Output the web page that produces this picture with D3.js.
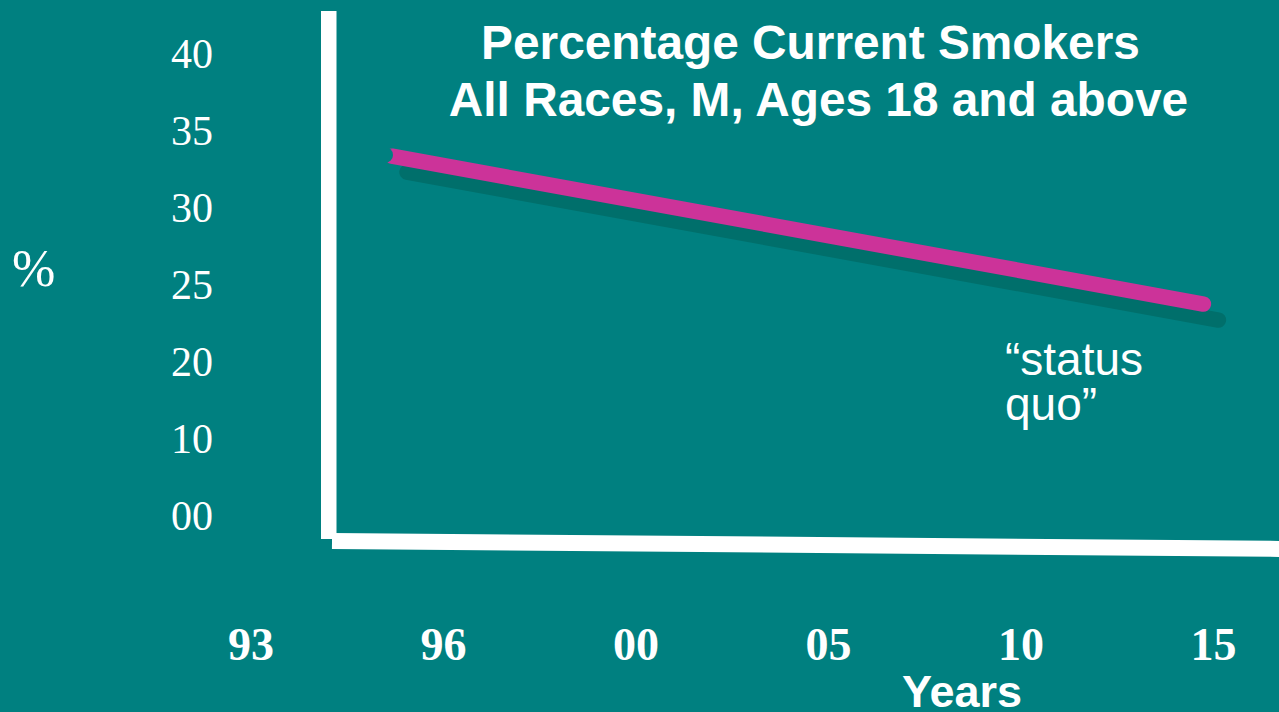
<!DOCTYPE html>
<html>
<head>
<meta charset="utf-8">
<script src="https://cdn.jsdelivr.net/npm/d3@7"></script>
<style>
  html, body { margin: 0; padding: 0; background: #008080; overflow: hidden; }
  svg { display: block; }
</style>
</head>
<body>
<svg id="chart" width="1279" height="712"></svg>
<script>
// Year categories along the bottom
const yearLabels = ["93", "96", "00", "05", "10", "15"];
const yearPositions = [0, 1, 2, 3, 4, 5];

// Percentage ticks on the left (as printed on the slide)
const pctTickValues = [40, 35, 30, 25, 20, 15, 10];
const pctTickLabels = ["40", "35", "30", "25", "20", "10", "00"];

// "status quo" projection: position along the year axis, percent smokers
const trendPos = [0.735, 4.95];
const trendPct = [33.3, 23.7];

const titleLines = ["Percentage Current Smokers", "All Races, M, Ages 18 and above"];

const BG = "#008080";
const PINK = "#CC3399";
const SHADOW = "#006F6B";

const svg = d3.select("#chart");
svg.append("rect").attr("width", 1279).attr("height", 712).attr("fill", BG);

const x = d3.scaleLinear().domain([0, 5]).range([250.5, 1213]);
const y = d3.scaleLinear().domain([10, 40]).range([515, 53]);

// Axis frame: thick white bars
svg.append("rect")
  .attr("x", 321).attr("y", 11)
  .attr("width", 15.5).attr("height", 528)
  .attr("fill", "#fff");
svg.append("line")
  .attr("x1", 332).attr("y1", 541)
  .attr("x2", 1290).attr("y2", 549)
  .attr("stroke", "#fff").attr("stroke-width", 16);

// Left tick labels
const yAxis = d3.axisLeft(y)
  .tickValues(pctTickValues)
  .tickFormat((d, i) => pctTickLabels[i])
  .tickSize(0);
const gy = svg.append("g").attr("transform", "translate(171,0)").call(yAxis);
gy.select(".domain").remove();
gy.selectAll("text")
  .attr("x", 0)
  .attr("dy", "0.34em")
  .attr("text-anchor", "start")
  .attr("fill", "#fff")
  .style("font-family", "'Liberation Serif', 'Times New Roman', serif")
  .style("font-size", "42px");

// Bottom year labels
const xAxis = d3.axisBottom(x)
  .tickValues(yearPositions)
  .tickFormat((d, i) => yearLabels[i])
  .tickSize(0);
const gx = svg.append("g").call(xAxis);
gx.select(".domain").remove();
gx.selectAll("text")
  .attr("y", 660)
  .attr("dy", 0)
  .attr("text-anchor", "middle")
  .attr("fill", "#fff")
  .style("font-family", "'Liberation Serif', 'Times New Roman', serif")
  .style("font-weight", "bold")
  .style("font-size", "46px");

// Axis titles
svg.append("text")
  .attr("x", 12).attr("y", 286)
  .attr("fill", "#fff")
  .style("font-family", "'Liberation Serif', 'Times New Roman', serif")
  .style("font-size", "52px")
  .text("%");
svg.append("text")
  .attr("x", 962).attr("y", 707)
  .attr("text-anchor", "middle")
  .attr("fill", "#fff")
  .style("font-family", "'Liberation Sans', Arial, sans-serif")
  .style("font-weight", "bold")
  .style("font-size", "45px")
  .text("Years");

// Chart title
const titleCenters = [810.5, 818.5];
const titleBaselines = [59, 116];
svg.selectAll("text.title").data(titleLines).join("text")
  .attr("class", "title")
  .attr("x", (d, i) => titleCenters[i])
  .attr("y", (d, i) => titleBaselines[i])
  .attr("text-anchor", "middle")
  .attr("fill", "#fff")
  .style("font-family", "'Liberation Sans', Arial, sans-serif")
  .style("font-weight", "bold")
  .style("font-size", "47.8px")
  .text(d => d);

// Trend line with drop shadow
const trend = trendPos.map((p, i) => ({ p, v: trendPct[i] }));
const line = d3.line().x(d => x(d.p)).y(d => y(d.v));

svg.append("path")
  .datum(trend)
  .attr("d", line)
  .attr("transform", "translate(15,16)")
  .attr("fill", "none")
  .attr("stroke", SHADOW)
  .attr("stroke-width", 15.5)
  .attr("stroke-linecap", "round");

svg.append("path")
  .datum(trend)
  .attr("d", line)
  .attr("fill", "none")
  .attr("stroke", PINK)
  .attr("stroke-width", 15.5)
  .attr("stroke-linecap", "round");

// Notched tail at the start of the line
svg.append("circle")
  .attr("cx", x(trend[0].p) - 7)
  .attr("cy", y(trend[0].v) - 1.3)
  .attr("r", 8)
  .attr("fill", BG);

// Annotation
const noteLines = ["\u201Cstatus", "quo\u201D"];
const noteBaselines = [375, 420];
svg.selectAll("text.note").data(noteLines).join("text")
  .attr("class", "note")
  .attr("x", 1005)
  .attr("y", (d, i) => noteBaselines[i])
  .attr("fill", "#fff")
  .style("font-family", "'Liberation Sans', Arial, sans-serif")
  .style("font-size", "46px")
  .text(d => d);
</script>
</body>
</html>
